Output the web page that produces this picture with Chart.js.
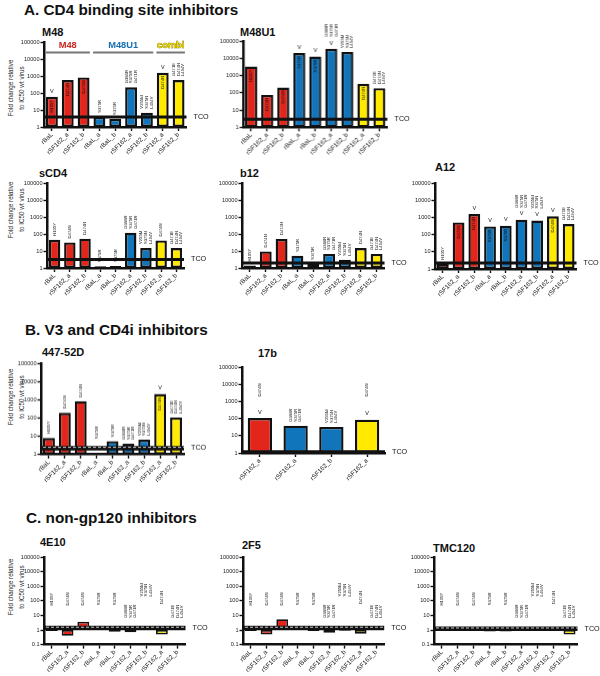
<!DOCTYPE html>
<html>
<head>
<meta charset="utf-8">
<script src="https://cdn.jsdelivr.net/npm/chart.js@4.4.1/dist/chart.umd.min.js"></script>
<style>
body { margin: 0; background: #fff; width: 600px; height: 676px; position: relative; overflow: hidden; font-family: "Liberation Sans", Arial, sans-serif; }
.sec { position: absolute; font-weight: bold; font-size: 15.3px; line-height: 1; white-space: nowrap; color: #111; }
.pt { position: absolute; font-weight: bold; font-size: 11px; line-height: 1; white-space: nowrap; color: #111; }
.yt { position: absolute; font-size: 6.3px; line-height: 11px; text-align: center; white-space: nowrap; color: #222;
      transform: translate(-50%, -50%) rotate(-90deg); }
.pane { position: absolute; left: 0; top: 0; }
</style>
</head>
<body>
<div class="sec" style="left:24px;top:2px">A. CD4 binding site inhibitors</div>
<div class="sec" style="left:25px;top:322px">B. V3 and CD4i inhibitors</div>
<div class="sec" style="left:26px;top:510px">C. non-gp120 inhibitors</div>

<div class="pt" style="left:42px;top:27.4px">M48</div>
<div class="pt" style="left:240px;top:26.7px">M48U1</div>
<div class="pt" style="left:39px;top:168px">sCD4</div>
<div class="pt" style="left:240px;top:168px">b12</div>
<div class="pt" style="left:435px;top:162.4px">A12</div>
<div class="pt" style="left:42px;top:347.4px">447-52D</div>
<div class="pt" style="left:258px;top:347.7px">17b</div>
<div class="pt" style="left:40px;top:537.4px">4E10</div>
<div class="pt" style="left:242px;top:540px">2F5</div>
<div class="pt" style="left:433px;top:543.4px">TMC120</div>

<div class="yt" style="left:15.5px;top:88px">Fold change relative<br>to IC50 wt virus</div>
<div class="yt" style="left:15.5px;top:210px">Fold change relative<br>to IC50 wt virus</div>
<div class="yt" style="left:15.5px;top:397px">Fold change relative<br>to IC50 wt virus</div>
<div class="yt" style="left:15.5px;top:587px">Fold change relative<br>to IC50 wt virus</div>

<script>
const FONT = '"Liberation Sans", Arial, sans-serif';
const RED = '#e2261c', BLUE = '#1175bb', YEL = '#ffea00';

// categories / mutations
const cats9 = ['rBaL', 'rSF162_a', 'rSF162_b', 'rBaL_a', 'rBaL_b', 'rSF162_a', 'rSF162_b', 'rSF162_a', 'rSF162_b'];
const fill9 = [RED, RED, RED, BLUE, BLUE, BLUE, BLUE, YEL, YEL];
const muts9 = [['H105Y'], ['D474N'], ['D474N'], ['S375R'], ['S375R'],
  ['G366R', 'S375R', 'G471R'], ['V255M', 'S375N', 'L494V'], ['D474N'], ['G471E', 'D474N', 'L494V']];
const cats17b = ['rSF162_a', 'rSF162_a', 'rSF162_b', 'rSF162_a'];
const fill17b = [RED, BLUE, BLUE, YEL];
const muts17b = [['D474N'], ['G366R', 'S375R', 'G471R'], ['V255M', 'S375N', 'L494V'], ['D474N']];

// tick labels
const ticksAB = [1, 10, 100, 1000, 10000, 100000];
const ticksC = [0.1, 1, 10, 100, 1000, 10000, 100000];

// M48 group headers
const groupNames = ['M48', 'M48U1', 'combi'];
const groupFirst = [0, 3, 7];
const groupLast = [2, 6, 8];
const groupColors = ['#c9281e', '#1670b0', '#f2dc00'];

// fold change values
const m48 = [60, 580, 830, 4, 3, 215, 7, 1550, 580];
const m48In = [1, 1, 1, 0, 0, 0, 0, 1, 0];
const m48Gt = [1, 0, 0, 0, 0, 0, 0, 1, 0];
const m48Tco = 3.9;

const m48u1 = [3300, 75, 200, 20000, 12500, 35000, 23000, 330, 185];
const m48u1In = [1, 1, 1, 1, 1, 0, 0, 1, 0];
const m48u1Gt = [0, 0, 0, 1, 1, 1, 0, 0, 0];
const m48u1Tco = 2.9;

const scd4 = [46, 32, 53, 1.25, 1.3, 120, 15, 42, 15];
const scd4Tco = 3.2;

const b12 = [1.4, 9.5, 50, 5.3, 1.8, 6.7, 3.1, 15, 6.7];
const b12Tco = 2.0;

const a12 = [2, 510, 1580, 300, 330, 740, 650, 1150, 410];
const a12In = [0, 1, 1, 1, 1, 0, 0, 1, 0];
const a12Gt = [0, 0, 1, 1, 1, 1, 1, 1, 0];
const a12Tco = 2.2;

const d447 = [8, 190, 840, null, 5.4, 3.9, 6.5, 2050, 107];
const d447In = [0, 0, 0, 0, 0, 0, 0, 1, 0];
const d447Gt = [0, 0, 0, 0, 0, 0, 0, 1, 0];
const d447LabelAt = [null, null, null, 7, null, null, null, null, null];
const d447Tco = 2.2;

const v17b = [108, 39, 33, 87];
const v17bGt = [1, 0, 0, 1];
const v17bLabelAt = [1900, null, null, 1900];
const v17bTco = 1.2;

const labelAtC = [48, 48, 48, 50, 50, 7, 200, 60, 7];
const e4e10 = [0.85, 0.4, 3.7, 1, 0.75, 0.7, 1, 0.5, 1.7];
const e4e10Tco = 1.35;
const f2f5 = [0.85, 0.5, 5.5, 1.15, 0.85, 0.65, 0.9, 0.55, 1.25];
const f2f5Tco = 1.35;
const tmc120 = [1.5, 1, 1, 0.8, 0.8, 1, 1, 1, 0.5];
const tmc120Tco = 1.2;

const zeros9 = [0, 0, 0, 0, 0, 0, 0, 0, 0];

function drawRot(ctx, lines, x, y, align) {
  ctx.save();
  ctx.translate(x, y);
  ctx.rotate(-Math.PI / 2);
  ctx.font = '4.2px ' + FONT;
  ctx.fillStyle = '#111';
  ctx.textAlign = align;
  ctx.textBaseline = 'middle';
  lines.forEach((t, j) => ctx.fillText(t, 0, (j - (lines.length - 1) / 2) * 4.7));
  ctx.restore();
}

function decor(p) {
  return {
    id: 'decor',
    afterDatasetsDraw(chart) {
      const ctx = chart.ctx, xs = chart.scales.x, ys = chart.scales.y, a = chart.chartArea;
      ctx.save();
      // TCO line
      const ty = ys.getPixelForValue(p.tco);
      ctx.strokeStyle = '#111';
      ctx.lineWidth = p.band;
      ctx.beginPath(); ctx.moveTo(a.left, ty); ctx.lineTo(a.right, ty); ctx.stroke();
      if (p.dash) {
        ctx.strokeStyle = '#fff';
        ctx.lineWidth = 0.8;
        ctx.setLineDash([3, 2]);
        ctx.beginPath(); ctx.moveTo(a.left + 2, ty - p.band * 0.2); ctx.lineTo(a.right, ty - p.band * 0.2); ctx.stroke();
        ctx.setLineDash([]);
      }
      ctx.fillStyle = '#111';
      ctx.font = '7.2px ' + FONT;
      ctx.textAlign = 'left';
      ctx.textBaseline = 'middle';
      ctx.fillText('TCO', a.right + 7, ty);

      // mutation labels, ">" marks
      const one = ys.getPixelForValue(1);
      p.vals.forEach((v, i) => {
        const cx = xs.getPixelForValue(i);
        const topPx = v == null ? one : Math.min(ys.getPixelForValue(v), one);
        let base = topPx - 4;
        if (p.gt[i]) {
          ctx.font = '5.5px ' + FONT;
          ctx.fillStyle = '#111';
          ctx.textAlign = 'center';
          ctx.textBaseline = 'bottom';
          ctx.fillText('V', cx, base + 1);
          base -= 8;
        }
        if (p.inside[i]) {
          drawRot(ctx, p.muts[i], cx, topPx + 3, 'right');
        } else {
          const at = p.labelAt && p.labelAt[i] != null ? ys.getPixelForValue(p.labelAt[i]) : base;
          drawRot(ctx, p.muts[i], cx, at, 'left');
        }
      });

      // group headers (M48 panel only)
      if (p.groups) {
        const half = xs.getPixelForValue(1) - xs.getPixelForValue(0);
        groupNames.forEach((g, k) => {
          const x0 = xs.getPixelForValue(groupFirst[k]) - half * 0.4;
          const x1 = xs.getPixelForValue(groupLast[k]) + half * 0.4;
          ctx.font = 'bold 9.3px ' + FONT;
          ctx.textAlign = 'center';
          ctx.textBaseline = 'middle';
          if (k === 2) {
            ctx.lineWidth = 0.7;
            ctx.strokeStyle = '#6b6200';
            ctx.strokeText(g, (x0 + x1) / 2, a.top + 3.5);
          }
          ctx.fillStyle = groupColors[k];
          ctx.fillText(g, (x0 + x1) / 2, a.top + 3.5);
          ctx.strokeStyle = '#777';
          ctx.lineWidth = 2;
          ctx.beginPath(); ctx.moveTo(x0, a.top + 10.5); ctx.lineTo(x1, a.top + 10.5); ctx.stroke();
        });
      }
      ctx.restore();
    }
  };
}

function makePanel(g, p) {
  const yW = 32, padT = 28, padR = 28, xH = 36;
  let w = g.R - g.L + yW + padR, h = g.B - g.T + padT + xH;
  const box = document.createElement('div');
  box.className = 'pane';
  box.style.width = w + 'px';
  box.style.height = h + 'px';
  const cv = document.createElement('canvas');
  box.appendChild(cv);
  document.body.appendChild(box);

  const chart = new Chart(cv, {
    type: 'bar',
    data: {
      labels: p.cats,
      datasets: [{
        data: p.vals.map(v => v == null ? null : [1, v]),
        backgroundColor: p.fill,
        borderColor: '#111',
        borderWidth: p.bord || 2.4,
        borderSkipped: false,
        barPercentage: p.bw,
        categoryPercentage: 1
      }]
    },
    options: {
      responsive: true,
      maintainAspectRatio: false,
      animation: false,
      layout: { padding: { top: padT, right: padR, left: 0, bottom: 0 } },
      plugins: { legend: { display: false }, tooltip: { enabled: false } },
      scales: {
        x: {
          offset: true,
          grid: { display: true, drawOnChartArea: false, offset: false, tickLength: 4, tickWidth: 1.4, tickColor: '#111' },
          border: { color: '#111', width: 2.5 },
          ticks: { minRotation: 45, maxRotation: 45, autoSkip: false, padding: 0, color: '#222', font: { family: FONT, size: 6.4 } },
          afterFit: s => { s.height = xH; }
        },
        y: {
          type: 'logarithmic',
          min: p.ticks[0],
          max: p.ticks[p.ticks.length - 1],
          afterBuildTicks: s => { s.ticks = p.ticks.map(v => ({ value: v })); },
          grid: { drawOnChartArea: false, tickLength: 3.5, tickWidth: 1.4, tickColor: '#111' },
          border: { color: '#111', width: 2.5 },
          ticks: { padding: 1, color: '#222', font: { family: FONT, size: 5.6 }, callback: v => String(v) },
          afterFit: s => { s.width = yW; }
        }
      }
    },
    plugins: [decor(p)]
  });

  // fit the plot area onto the reference position
  let a = chart.chartArea;
  w += (g.R - g.L) - (a.right - a.left);
  h += (g.B - g.T) - (a.bottom - a.top);
  box.style.width = w + 'px';
  box.style.height = h + 'px';
  chart.resize();
  a = chart.chartArea;
  box.style.left = (g.L - a.left) + 'px';
  box.style.top = (g.T - a.top) + 'px';
}

const std9 = { cats: cats9, fill: fill9, muts: muts9, bw: 0.75 };

makePanel({ L: 43.5, R: 186, T: 42, B: 127 },
  Object.assign({}, std9, { vals: m48, inside: m48In, gt: m48Gt, tco: m48Tco, ticks: ticksAB, band: 3, groups: true }));
makePanel({ L: 243, R: 386.5, T: 41, B: 127.3 },
  Object.assign({}, std9, { vals: m48u1, inside: m48u1In, gt: m48u1Gt, tco: m48u1Tco, ticks: ticksAB, band: 3 }));
makePanel({ L: 46.5, R: 183.5, T: 183.3, B: 268.3 },
  Object.assign({}, std9, { vals: scd4, inside: zeros9, gt: zeros9, tco: scd4Tco, ticks: ticksAB, band: 3 }));
makePanel({ L: 241.5, R: 384, T: 183.3, B: 268.3 },
  Object.assign({}, std9, { vals: b12, inside: zeros9, gt: zeros9, tco: b12Tco, ticks: ticksAB, band: 3 }));
makePanel({ L: 434.5, R: 576, T: 183.3, B: 269.3 },
  Object.assign({}, std9, { vals: a12, inside: a12In, gt: a12Gt, tco: a12Tco, ticks: ticksAB, band: 3 }));
makePanel({ L: 41, R: 184, T: 363.3, B: 454 },
  Object.assign({}, std9, { vals: d447, inside: d447In, gt: d447Gt, labelAt: d447LabelAt, tco: d447Tco, ticks: ticksAB, band: 4.5, dash: true }));
makePanel({ L: 242, R: 385, T: 367.3, B: 453.3 },
  { cats: cats17b, fill: fill17b, muts: muts17b, bw: 0.68, vals: v17b, inside: [0, 0, 0, 0], gt: v17bGt, labelAt: v17bLabelAt, tco: v17bTco, ticks: ticksAB, band: 3 });
makePanel({ L: 43.5, R: 185, T: 556.7, B: 644.3 },
  Object.assign({}, std9, { vals: e4e10, inside: zeros9, gt: zeros9, labelAt: labelAtC, tco: e4e10Tco, ticks: ticksC, band: 4.5, dash: true, bord: 1.7 }));
makePanel({ L: 243.3, R: 384.5, T: 556.7, B: 644.3 },
  Object.assign({}, std9, { vals: f2f5, inside: zeros9, gt: zeros9, labelAt: labelAtC, tco: f2f5Tco, ticks: ticksC, band: 4.5, dash: true, bord: 1.7 }));
makePanel({ L: 433.5, R: 577, T: 556.7, B: 644.3 },
  Object.assign({}, std9, { vals: tmc120, inside: zeros9, gt: zeros9, labelAt: labelAtC, tco: tmc120Tco, ticks: ticksC, band: 4.5, dash: true, bord: 1.7 }));
</script>
</body>
</html>
